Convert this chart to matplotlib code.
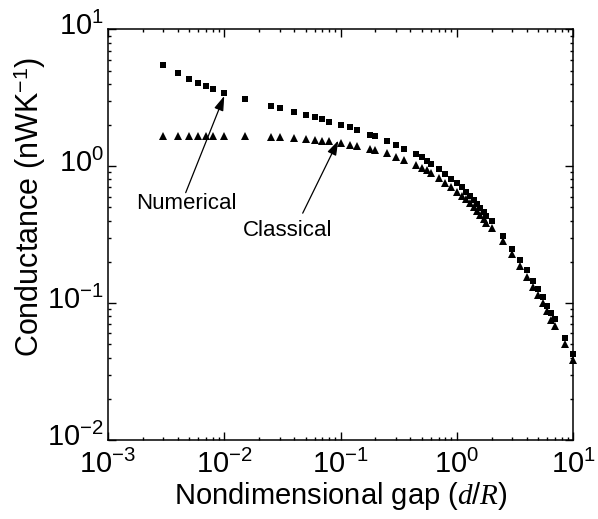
import math
import matplotlib
matplotlib.use("Agg")
import matplotlib.pyplot as plt
from matplotlib.ticker import LogLocator, FuncFormatter, NullFormatter
from matplotlib.transforms import ScaledTranslation

plt.rcParams['font.family'] = ['Liberation Sans', 'DejaVu Sans']
plt.rcParams['mathtext.fontset'] = 'custom'
plt.rcParams['mathtext.rm'] = 'Liberation Sans'
plt.rcParams['mathtext.it'] = 'Liberation Serif:italic'

gap = [0.003, 0.004, 0.005, 0.006, 0.007, 0.008, 0.01, 0.015, 0.025, 0.03,
       0.04, 0.05, 0.06, 0.07, 0.08, 0.1, 0.12, 0.14, 0.18, 0.2,
       0.25, 0.3, 0.35, 0.45, 0.5, 0.55, 0.6, 0.7, 0.8, 0.9,
       1.0, 1.1, 1.2, 1.3, 1.4, 1.5, 1.6, 1.7, 1.8, 2.0,
       2.5, 3.0, 3.5, 4.0, 4.5, 5.0, 5.5, 6.0, 6.5, 7.0, 8.5, 10.0]

numerical = [5.49, 4.77, 4.34, 4.07, 3.87, 3.68, 3.44, 3.11, 2.77, 2.65,
             2.49, 2.38, 2.28, 2.20, 2.12, 2.01, 1.92, 1.84, 1.70, 1.66,
             1.53, 1.43, 1.34, 1.22, 1.16, 1.10, 1.045, 0.955, 0.875, 0.81,
             0.75, 0.70, 0.653, 0.61, 0.567, 0.53, 0.494, 0.464, 0.433, 0.40,
             0.31, 0.25, 0.208, 0.175, 0.145, 0.127, 0.110, 0.0955, 0.0853, 0.0763, 0.056, 0.0427]

classical = [1.66, 1.66, 1.66, 1.66, 1.66, 1.66, 1.66, 1.66, 1.63, 1.63,
             1.60, 1.58, 1.56, 1.54, 1.52, 1.49, 1.44, 1.41, 1.33, 1.31,
             1.24, 1.17, 1.11, 1.02, 0.977, 0.935, 0.893, 0.822, 0.759, 0.703,
             0.649, 0.607, 0.574, 0.537, 0.502, 0.472, 0.439, 0.412, 0.384, 0.356,
             0.282, 0.227, 0.187, 0.156, 0.131, 0.114, 0.100, 0.087, 0.0755, 0.0683, 0.0502, 0.0386]

fig = plt.figure(figsize=(5.98, 5.19), dpi=100)
ax = fig.add_axes([0.1806, 0.1522, 0.7776, 0.7913])

ax.plot(gap, numerical, 's', color='black', ms=4.5, mew=0, clip_on=False, zorder=3)
ax.plot(gap, classical, '^', color='black', ms=5.3, mew=0, clip_on=False, zorder=4)

ax.set_xscale('log')
ax.set_yscale('log')
ax.set_xlim(1e-3, 10)
ax.set_ylim(1e-2, 10)

fmt = FuncFormatter(lambda v, p: r'$\mathregular{10^{%d}}$' % round(math.log10(v)))
for axis in (ax.xaxis, ax.yaxis):
    axis.set_major_locator(LogLocator(base=10, numticks=10))
    axis.set_minor_locator(LogLocator(base=10, subs=range(2, 10), numticks=10))
    axis.set_major_formatter(fmt)
    axis.set_minor_formatter(NullFormatter())

for s in ax.spines.values():
    s.set_linewidth(1.1)

ax.tick_params(which='major', direction='in', length=5.8, width=1.0, labelsize=21,
               top=True, right=True)
ax.tick_params(which='minor', direction='in', length=2.4, width=1.0,
               top=True, right=True)
ax.tick_params(axis='x', which='major', pad=7)
ax.tick_params(axis='y', which='major', pad=3)

# lift y tick labels slightly, as in the reference
shift = ScaledTranslation(0, 4 / 72, fig.dpi_scale_trans)
for t in ax.yaxis.get_major_ticks():
    t.label1.set_transform(t.label1.get_transform() + shift)

ax.set_xlabel(r'Nondimensional gap ($\mathit{d/R}$)', fontsize=21, labelpad=1)
ax.set_ylabel(r'Conductance (nWK$^{\mathregular{-1}}$)', fontsize=22)
ax.yaxis.set_label_coords(-0.128, 0.567)

arrow = dict(arrowstyle='-|>,head_length=0.55,head_width=0.18', color='black',
             lw=0.9, mutation_scale=16, shrinkA=0, shrinkB=0)
ax.annotate('', xy=(0.01, 3.26), xytext=(0.00466, 0.641), arrowprops=arrow)
ax.annotate('', xy=(0.0957, 1.54), xytext=(0.0473, 0.454), arrowprops=arrow)
ax.text(0.00469, 0.532, 'Numerical', fontsize=16, ha='center', va='center')
ax.text(0.0353, 0.338, 'Classical', fontsize=16, ha='center', va='center')

fig.savefig('out.png', dpi=100)
